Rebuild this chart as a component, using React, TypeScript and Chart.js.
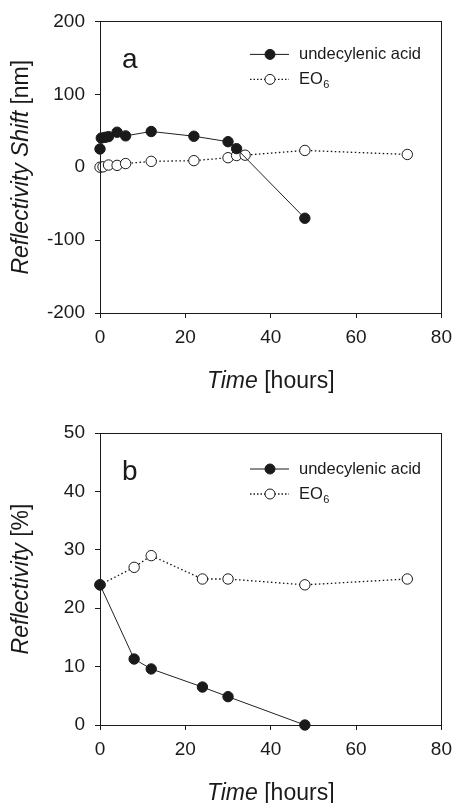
import React, { useEffect, useRef } from "react";
import { Chart, registerables } from "chart.js";

Chart.register(...registerables);

// ---- Data ----
const shiftUdaTime = [0, 0.3, 1.2, 2, 4, 6, 12, 22, 30, 32, 48];
const shiftUdaVals = [25, 40, 41, 42, 48, 43, 49, 42.5, 35, 25.5, -70];
const shiftEoTime = [0, 0.7, 2, 4, 6, 12, 22, 30, 32, 34, 48, 72];
const shiftEoVals = [0, 0.5, 3, 2.5, 5, 8, 9, 13, 16, 16.5, 23, 17.5];

const reflUdaTime = [0, 8, 12, 24, 30, 48];
const reflUdaVals = [24, 11.3, 9.6, 6.5, 4.85, 0];
const reflEoTime = [0, 8, 12, 24, 30, 48, 72];
const reflEoVals = [24, 27, 29, 25, 25, 24, 25];

const seriesNames = ["undecylenic acid", "EO"];
const seriesSub = ["", "6"];
const panelLabels = ["a", "b"];
const xTitleParts = [
  { text: "Time", italic: true },
  { text: " [hours]", italic: false },
];
const yTitleTop = [
  { text: "Reflectivity Shift", italic: true },
  { text: " [nm]", italic: false },
];
const yTitleBottom = [
  { text: "Reflectivity", italic: true },
  { text: " [%]", italic: false },
];
const xTicks = { min: 0, max: 80, step: 20 };
const yTicksTop = { min: -200, max: 200, step: 100 };
const yTicksBottom = { min: 0, max: 50, step: 10 };

const FONT = "'Liberation Sans', Arial, Helvetica, sans-serif";
const INK = "#1a1a1a";
const SOLID: number[] = [];
const DOTTED = [1.5, 2.5];

function toXY(xs: number[], ys: number[]) {
  return xs.map((x, i) => ({ x, y: ys[i] }));
}

function drawParts(ctx: CanvasRenderingContext2D, parts: { text: string; italic: boolean }[], size: number, cx: number, cy: number) {
  const widths = parts.map((p) => {
    ctx.font = `${p.italic ? "italic " : ""}${size}px ${FONT}`;
    return ctx.measureText(p.text).width;
  });
  const total = widths.reduce((a, b) => a + b, 0);
  let x = cx - total / 2;
  ctx.textBaseline = "middle";
  ctx.textAlign = "left";
  parts.forEach((p, i) => {
    ctx.font = `${p.italic ? "italic " : ""}${size}px ${FONT}`;
    ctx.fillText(p.text, x, cy);
    x += widths[i];
  });
}

const decorPlugin = {
  id: "decor",
  afterDraw(chart: any) {
    const cfg = chart.options.plugins.decor;
    if (!cfg) return;
    const ctx: CanvasRenderingContext2D = chart.ctx;
    const a = chart.chartArea;
    ctx.save();
    // frame
    ctx.strokeStyle = INK;
    ctx.lineWidth = 1;
    ctx.setLineDash([]);
    ctx.strokeRect(Math.round(a.left) + 0.5, Math.round(a.top) + 0.5, Math.round(a.right - a.left), Math.round(a.bottom - a.top));
    ctx.fillStyle = INK;
    // panel label
    ctx.font = `28px ${FONT}`;
    ctx.textAlign = "left";
    ctx.textBaseline = "middle";
    ctx.fillText(cfg.label, a.left + 22, a.top + cfg.labelDy);
    // legend
    cfg.items.forEach((it: any, i: number) => {
      const y = a.top + cfg.legY + i * cfg.legDy;
      const x0 = a.left + 150;
      ctx.strokeStyle = INK;
      ctx.lineWidth = it.lw;
      ctx.setLineDash(it.dash);
      ctx.beginPath();
      ctx.moveTo(x0, y);
      ctx.lineTo(x0 + 39, y);
      ctx.stroke();
      ctx.setLineDash([]);
      ctx.lineWidth = 1;
      ctx.beginPath();
      ctx.arc(x0 + 20, y, 5, 0, Math.PI * 2);
      ctx.fillStyle = it.fill;
      ctx.fill();
      ctx.stroke();
      ctx.fillStyle = INK;
      ctx.font = `16.5px ${FONT}`;
      ctx.textAlign = "left";
      ctx.textBaseline = "middle";
      ctx.fillText(it.name, x0 + 49, y);
      if (it.sub) {
        const w = ctx.measureText(it.name).width;
        ctx.font = `11px ${FONT}`;
        ctx.fillText(it.sub, x0 + 49 + w + 0.5, y + 6);
      }
    });
    // x title
    ctx.fillStyle = INK;
    drawParts(ctx, cfg.xTitle, 23, (a.left + a.right) / 2, a.bottom + 69);
    // y title
    ctx.save();
    ctx.translate(22, (a.top + a.bottom) / 2);
    ctx.rotate(-Math.PI / 2);
    drawParts(ctx, cfg.yTitle, 23, 0, 0);
    ctx.restore();
    ctx.restore();
  },
};

function makeConfig(opts: {
  uda: { x: number; y: number }[];
  eo: { x: number; y: number }[];
  y: { min: number; max: number; step: number };
  padTop: number;
  xHeight: number;
  label: string;
  yTitle: { text: string; italic: boolean }[];
  labelDy: number;
  legY: number;
}): any {
  const pointBase = {
    pointRadius: 5.2,
    pointHoverRadius: 5.2,
    pointBorderWidth: 1,
    pointBorderColor: INK,
    borderColor: "#222222",
    borderWidth: 1,
    showLine: true,
    tension: 0,
    clip: false as any,
  };
  return {
    type: "scatter",
    data: {
      datasets: [
        {
          ...pointBase,
          label: seriesNames[0],
          data: opts.uda,
          pointBackgroundColor: INK,
          borderDash: SOLID,
        },
        {
          ...pointBase,
          label: seriesNames[1],
          data: opts.eo,
          pointBackgroundColor: "#ffffff",
          borderColor: "#111111",
          borderWidth: 1.3,
          borderDash: DOTTED,
        },
      ],
    },
    options: {
      responsive: false,
      animation: false,
      events: [],
      layout: { padding: { left: 0, right: 13, top: opts.padTop, bottom: 0 } },
      plugins: {
        legend: { display: false },
        tooltip: { enabled: false },
        decor: {
          label: opts.label,
          labelDy: opts.labelDy,
          legY: opts.legY,
          legDy: 25,
          xTitle: xTitleParts,
          yTitle: opts.yTitle,
          items: [
            { name: seriesNames[0], sub: seriesSub[0], dash: SOLID, fill: INK, lw: 1 },
            { name: seriesNames[1], sub: seriesSub[1], dash: [1.5, 2], fill: "#ffffff", lw: 1.3 },
          ],
        },
      },
      scales: {
        x: {
          type: "linear",
          min: xTicks.min,
          max: xTicks.max,
          ticks: {
            stepSize: xTicks.step,
            color: INK,
            font: { family: FONT, size: 19 },
            padding: 8,
            maxRotation: 0,
          },
          grid: { drawOnChartArea: false, drawTicks: true, tickLength: 5, color: INK },
          border: { display: true, color: INK },
          afterFit: (s: any) => {
            s.height = opts.xHeight;
          },
        },
        y: {
          type: "linear",
          min: opts.y.min,
          max: opts.y.max,
          ticks: {
            stepSize: opts.y.step,
            color: INK,
            font: { family: FONT, size: 19 },
            padding: 10,
          },
          grid: { drawOnChartArea: false, drawTicks: true, tickLength: 5, color: INK },
          border: { display: true, color: INK },
          afterFit: (s: any) => {
            s.width = 100;
          },
        },
      },
    },
    plugins: [decorPlugin],
  };
}

function Panel(props: { height: number; config: any }) {
  const ref = useRef<HTMLCanvasElement | null>(null);
  useEffect(() => {
    if (!ref.current) return;
    const chart = new Chart(ref.current, props.config);
    return () => chart.destroy();
  }, []);
  return <canvas ref={ref} width={460} height={props.height} style={{ display: "block", width: 460, height: props.height }} />;
}

export default function App() {
  const topCfg = makeConfig({
    uda: toXY(shiftUdaTime, shiftUdaVals),
    eo: toXY(shiftEoTime, shiftEoVals),
    y: yTicksTop,
    padTop: 20,
    xHeight: 87,
    label: panelLabels[0],
    yTitle: yTitleTop,
    labelDy: 39,
    legY: 33,
  });
  const bottomCfg = makeConfig({
    uda: toXY(reflUdaTime, reflUdaVals),
    eo: toXY(reflEoTime, reflEoVals),
    y: yTicksBottom,
    padTop: 33,
    xHeight: 78,
    label: panelLabels[1],
    yTitle: yTitleBottom,
    labelDy: 39,
    legY: 36,
  });
  return (
    <div style={{ position: "absolute", left: 0, top: 0, width: 460, height: 803, background: "#ffffff" }}>
      <Panel height={400} config={topCfg} />
      <Panel height={403} config={bottomCfg} />
    </div>
  );
}
